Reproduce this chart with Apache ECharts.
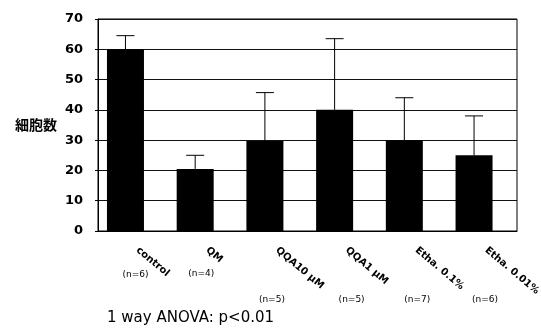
<!DOCTYPE html>
<html>
<head>
<meta charset="utf-8">
<script src="https://cdn.jsdelivr.net/npm/echarts@6/dist/echarts.min.js"></script>
<style>
  html, body { margin: 0; padding: 0; background: #fff; }
  #chart { width: 541px; height: 330px; }
</style>
</head>
<body>
<div id="chart"></div>
<script>
// 群名と例数
var categories = ['control', 'QM', 'QQA10 \u03bcM', 'QQA1 \u03bcM', 'Etha. 0.1%', 'Etha. 0.01%']
var nLabels = ['(n=6)', '(n=4)', '(n=5)', '(n=5)', '(n=7)', '(n=6)']
// 平均値と SD（上側のみ）
var means = [60, 20.5, 29.7, 40, 30, 25]
var sds = [4.5, 4.5, 16, 23.5, 14, 13]
var yTicks = { min: 0, max: 70, interval: 10 }

// (n=..) の位置ずれ（px）
var nOffsetX = [10, 6, 7, 17, 13, 11]
var nOffsetY = [44, 43, 69, 69, 69, 69]

var chart = echarts.init(document.getElementById('chart'))

chart.setOption({
  animation: false,
  backgroundColor: '#fff',
  title: {
    text: '1 way ANOVA: p<0.01',
    left: 107,
    top: 311,
    padding: 0,
    textStyle: {
      color: '#000',
      fontWeight: 'normal',
      fontSize: 15,
      fontFamily: 'DejaVu Sans'
    }
  },
  grid: {
    left: 98,
    right: 24,
    top: 19,
    bottom: 99,
    show: true,
    borderColor: '#000',
    borderWidth: 1
  },
  xAxis: {
    type: 'value',
    min: -0.394,
    max: 5.616,
    axisLine: { show: true, onZero: false, lineStyle: { color: '#000', width: 1 } },
    axisTick: { show: false },
    axisLabel: { show: false },
    splitLine: { show: false }
  },
  yAxis: {
    type: 'value',
    min: yTicks.min,
    max: yTicks.max,
    interval: yTicks.interval,
    name: '細胞数',
    nameLocation: 'middle',
    nameRotate: 0,
    nameGap: 41,
    nameTextStyle: {
      color: '#000',
      fontSize: 14,
      fontWeight: 'bold',
      fontFamily: 'Noto Sans CJK JP',
      align: 'right'
    },
    axisLine: { show: true, onZero: false, lineStyle: { color: '#000', width: 1 } },
    axisTick: { show: true, length: 3, lineStyle: { color: '#000' } },
    axisLabel: {
      color: '#000',
      fontSize: 13,
      fontWeight: 'bold',
      fontFamily: 'DejaVu Sans',
      margin: 15
    },
    // 目盛線
    splitLine: { show: true, lineStyle: { color: '#111', width: 1 } }
  },
  series: [
    {
      type: 'bar',
      barWidth: 37,
      itemStyle: { color: '#000' },
      data: means.map(function (v, i) { return [i, v] }),
      z: 2
    },
    {
      // 上側エラーバー
      type: 'custom',
      z: 3,
      data: means.map(function (v, i) { return [i, v, v + sds[i]] }),
      renderItem: function (params, api) {
        var base = api.coord([api.value(0), api.value(1)])
        var top = api.coord([api.value(0), api.value(2)])
        var half = 9
        return {
          type: 'group',
          children: [
            { type: 'line', shape: { x1: base[0], y1: base[1], x2: top[0], y2: top[1] }, style: { stroke: '#000', lineWidth: 1 } },
            { type: 'line', shape: { x1: top[0] - half, y1: top[1], x2: top[0] + half, y2: top[1] }, style: { stroke: '#000', lineWidth: 1 } }
          ]
        }
      }
    },
    {
      // 横軸ラベル（斜め）と例数
      type: 'custom',
      clip: false,
      silent: true,
      data: categories.map(function (c, i) { return [i, 0] }),
      renderItem: function (params, api) {
        var i = params.dataIndex
        var p = api.coord([api.value(0), 0])
        return {
          type: 'group',
          children: [
            {
              type: 'text',
              x: p[0] + 12,
              y: p[1] + 18,
              rotation: -40 * Math.PI / 180,
              style: {
                text: categories[i],
                fill: '#000',
                font: 'bold 10px "DejaVu Sans"',
                textAlign: 'left',
                textVerticalAlign: 'middle'
              }
            },
            {
              type: 'text',
              x: p[0] + nOffsetX[i],
              y: p[1] + nOffsetY[i],
              style: {
                text: nLabels[i],
                fill: '#000',
                font: '9px "DejaVu Sans"',
                textAlign: 'center',
                textVerticalAlign: 'middle'
              }
            }
          ]
        }
      }
    }
  ]
})
</script>
</body>
</html>
